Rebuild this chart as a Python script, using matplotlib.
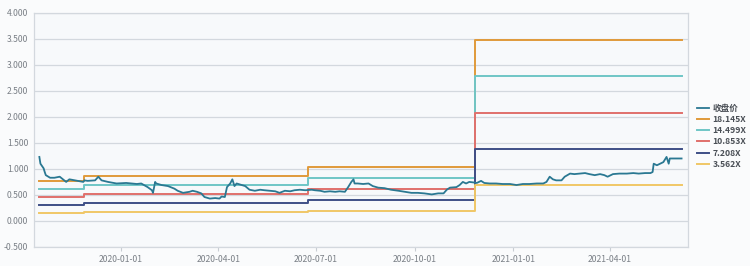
import matplotlib
matplotlib.use("Agg")
import matplotlib.pyplot as plt
import matplotlib.dates as mdates
import pandas as pd
from matplotlib.ticker import MultipleLocator, FormatStrFormatter

plt.rcParams['font.family'] = ['Noto Sans CJK SC', 'DejaVu Sans']

# ---- data ----
close_dates = [
    '2019-10-17', '2019-10-18', '2019-10-21', '2019-10-22', '2019-10-23', '2019-10-27', '2019-10-31',
    '2019-11-05', '2019-11-08', '2019-11-11', '2019-11-14', '2019-11-19', '2019-11-24', '2019-11-27',
    '2019-11-28', '2019-12-01', '2019-12-08', '2019-12-11', '2019-12-14', '2019-12-20', '2019-12-28',
    '2020-01-06', '2020-01-16', '2020-01-20', '2020-01-26', '2020-01-30', '2020-01-31', '2020-02-02',
    '2020-02-03', '2020-02-08', '2020-02-14', '2020-02-20', '2020-02-23', '2020-02-28', '2020-03-05',
    '2020-03-08', '2020-03-12', '2020-03-16', '2020-03-19', '2020-03-24', '2020-03-29', '2020-04-02',
    '2020-04-04', '2020-04-07', '2020-04-09', '2020-04-12', '2020-04-14', '2020-04-16', '2020-04-18',
    '2020-04-23', '2020-04-26', '2020-04-30', '2020-05-05', '2020-05-10', '2020-05-14', '2020-05-19',
    '2020-05-24', '2020-05-28', '2020-06-02', '2020-06-07', '2020-06-11', '2020-06-16', '2020-06-21',
    '2020-06-27', '2020-06-30', '2020-07-05', '2020-07-09', '2020-07-14', '2020-07-19', '2020-07-23',
    '2020-07-28', '2020-07-31', '2020-08-03', '2020-08-05', '2020-08-06', '2020-08-09', '2020-08-14',
    '2020-08-19', '2020-08-23', '2020-08-28', '2020-09-03', '2020-09-09', '2020-09-16', '2020-09-22',
    '2020-09-28', '2020-10-04', '2020-10-10', '2020-10-17', '2020-10-23', '2020-10-28', '2020-10-31',
    '2020-11-03', '2020-11-09', '2020-11-12', '2020-11-15', '2020-11-18', '2020-11-21', '2020-11-25',
    '2020-11-28', '2020-12-02', '2020-12-05', '2020-12-10', '2020-12-16', '2020-12-22', '2020-12-29',
    '2021-01-04', '2021-01-10', '2021-01-16', '2021-01-23', '2021-01-29', '2021-02-01', '2021-02-04',
    '2021-02-07', '2021-02-10', '2021-02-15', '2021-02-18', '2021-02-23', '2021-02-27', '2021-03-04',
    '2021-03-09', '2021-03-13', '2021-03-18', '2021-03-23', '2021-03-27', '2021-03-30', '2021-04-04',
    '2021-04-10', '2021-04-17', '2021-04-23', '2021-04-28', '2021-05-04', '2021-05-09', '2021-05-11',
    '2021-05-12', '2021-05-15', '2021-05-18', '2021-05-21', '2021-05-24', '2021-05-26', '2021-05-27',
    '2021-06-01', '2021-06-07',
]
close_values = [
    1.23, 1.10, 1.01, 0.94, 0.88, 0.83, 0.83,
    0.85, 0.80, 0.75, 0.80, 0.78, 0.76, 0.75,
    0.78, 0.77, 0.78, 0.85, 0.78, 0.75, 0.72,
    0.73, 0.71, 0.72, 0.65, 0.59, 0.54, 0.75,
    0.72, 0.69, 0.67, 0.62, 0.58, 0.54, 0.56,
    0.58, 0.56, 0.53, 0.46, 0.43, 0.44, 0.43,
    0.47, 0.46, 0.65, 0.72, 0.80, 0.67, 0.72,
    0.69, 0.67, 0.60, 0.58, 0.60, 0.59, 0.58,
    0.57, 0.54, 0.58, 0.57, 0.59, 0.60, 0.59,
    0.60, 0.59, 0.58, 0.56, 0.57, 0.56, 0.57,
    0.56, 0.65, 0.75, 0.80, 0.72, 0.72, 0.71,
    0.72, 0.67, 0.64, 0.63, 0.60, 0.58, 0.56,
    0.54, 0.54, 0.53, 0.51, 0.53, 0.53, 0.60,
    0.64, 0.65, 0.69, 0.75, 0.72, 0.75, 0.74,
    0.73, 0.77, 0.73, 0.72, 0.72, 0.71, 0.71,
    0.69, 0.71, 0.71, 0.72, 0.72, 0.75, 0.85,
    0.80, 0.78, 0.78, 0.85, 0.91, 0.90, 0.91,
    0.92, 0.90, 0.88, 0.90, 0.88, 0.85, 0.90,
    0.91, 0.91, 0.92, 0.91, 0.92, 0.92, 0.94,
    1.10, 1.07, 1.10, 1.13, 1.23, 1.10, 1.20,
    1.20, 1.20,
]

# PE band change dates (value holds from each date until the next)
band_dates = ['2019-10-17', '2019-11-28', '2020-06-24', '2020-11-26', '2021-06-07']
band_labels = ['18.145X', '14.499X', '10.853X', '7.208X', '3.562X']
band_18145 = [0.77, 0.87, 1.03, 3.48, 3.48]
band_14499 = [0.62, 0.70, 0.82, 2.78, 2.78]
band_10853 = [0.46, 0.52, 0.61, 2.08, 2.08]
band_7208 = [0.31, 0.35, 0.41, 1.38, 1.38]
band_3562 = [0.15, 0.17, 0.20, 0.69, 0.69]

close_label = '收盘价'
y_ticks = [-0.5, 0.0, 0.5, 1.0, 1.5, 2.0, 2.5, 3.0, 3.5, 4.0]
x_ticks = ['2020-01-01', '2020-04-01', '2020-07-01', '2020-10-01', '2021-01-01', '2021-04-01']

# ---- styling ----
band_colors = ['#e09a3a', '#6fc6c6', '#e0706c', '#3e4f86', '#f0c766']
close_color = '#2a7892'

fig = plt.figure(figsize=(7.5, 2.66), dpi=100, facecolor='#fafbfc')
ax = fig.add_axes([34 / 750, 1 - 247 / 266, (688 - 34) / 750, (247 - 12.7) / 266])
ax.set_facecolor('#f7f9fb')

cd = pd.to_datetime(close_dates)
bd = pd.to_datetime(band_dates)

ax.plot(cd, close_values, color=close_color, lw=1.3, label=close_label, zorder=5)
for vals, lab, col in zip([band_18145, band_14499, band_10853, band_7208, band_3562], band_labels, band_colors):
    ax.plot(bd, vals, drawstyle='steps-post', color=col, lw=1.4, label=lab, zorder=3)

ax.set_ylim(-0.5, 4.0)
ax.set_yticks(y_ticks)
ax.yaxis.set_major_formatter(FormatStrFormatter('%.3f'))
ax.set_xlim(pd.Timestamp('2019-10-12'), pd.Timestamp('2021-06-13'))
ax.set_xticks(pd.to_datetime(x_ticks))
ax.xaxis.set_major_formatter(mdates.DateFormatter('%Y-%m-%d'))

ax.grid(axis='y', color='#d3d8de', lw=0.9)
ax.set_axisbelow(True)
for s in ax.spines.values():
    s.set_color('#d3d8de')
    s.set_linewidth(0.9)
ax.tick_params(axis='y', length=0, labelsize=6.2, labelcolor='#7a7f86', pad=4)
ax.tick_params(axis='x', length=3, color='#c8cdd3', labelsize=6.2, labelcolor='#7a7f86', pad=3)

leg = fig.legend(loc='upper left', bbox_to_anchor=(697 / 750, 1 - 104 / 266), frameon=False,
                 fontsize=6.2, handlelength=1.4, handletextpad=0.4, labelspacing=0.25,
                 borderaxespad=0, borderpad=0)
for t in leg.get_texts():
    t.set_color('#4a4f56')
    t.set_fontweight('bold')

fig.savefig('out.png', dpi=100, facecolor=fig.get_facecolor())
